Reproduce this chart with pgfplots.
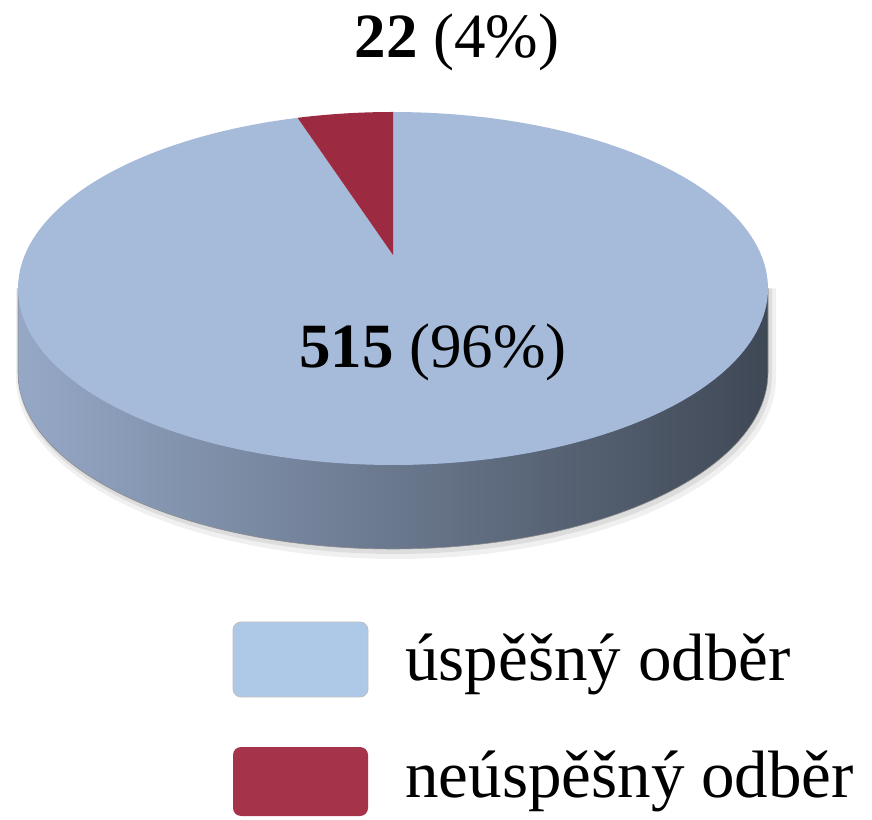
\documentclass[border=0pt]{standalone}
\usepackage{fontspec}
\setmainfont{Liberation Serif}
\usepackage{pgfplots}
\usepackage{pgfplotstable}
\pgfplotsset{compat=1.18}
\definecolor{topblue}{HTML}{A6BADA}
\definecolor{slicered}{HTML}{9C2A40}
\definecolor{legblue}{HTML}{AEC8E8}
\definecolor{legred}{HTML}{A5344B}
\definecolor{sideL}{HTML}{95A8C6}
\definecolor{sideM}{HTML}{617089}
\definecolor{sideR}{HTML}{3F4855}
\pgfplotstableread{
label value
uspesny 515
neuspesny 22
}\piedata
\pgfplotstablegetelem{0}{value}\of\piedata \let\vA\pgfplotsretval
\pgfplotstablegetelem{1}{value}\of\piedata \let\vB\pgfplotsretval
\pgfmathsetmacro{\angB}{90+360*\vB/(\vA+\vB)}
\pgfmathsetmacro{\angEnd}{450}
\def\cx{393}\def\cy{530.5}\def\ra{375}\def\rb{176.5}\def\dep{84}
\def\apy{564}
\begin{document}
\begin{tikzpicture}
\begin{axis}[
  scale only axis, width=436pt, height=409.5pt,
  xmin=0, xmax=872, ymin=0, ymax=819,
  hide axis, clip=false,
]
\path (axis cs:0,0) (axis cs:872,819);
% soft shadow
\addplot[draw=none, fill=black, fill opacity=0.06, domain=180:360, samples=100]
  ({\cx+3+(\ra+5)*cos(x)},{\cy-\dep-5+(\rb+5)*sin(x)}) -- (axis cs:\cx+\ra+8,\cy) -- (axis cs:\cx-\ra-2,\cy) -- cycle;
\addplot[draw=none, fill=black, fill opacity=0.08, domain=180:360, samples=100]
  ({\cx+2+(\ra+2)*cos(x)},{\cy-\dep-3+(\rb+2)*sin(x)}) -- (axis cs:\cx+\ra+4,\cy) -- (axis cs:\cx-\ra,\cy) -- cycle;
% side
\addplot[draw=black!45, line width=0.3pt, left color=sideL, middle color=sideM, right color=sideR, domain=180:360, samples=120]
  ({\cx+\ra*cos(x)},{\cy-\dep+\rb*sin(x)}) -- (axis cs:\cx+\ra,\cy) -- (axis cs:\cx-\ra,\cy) -- cycle;
% top face: blue slice
\addplot[draw=none, fill=topblue, domain=\angB:\angEnd, samples=200]
  ({\cx+\ra*cos(x)},{\cy+\rb*sin(x)}) -- (axis cs:\cx,\apy) -- cycle;
% red slice
\addplot[draw=none, fill=slicered, domain=90:\angB, samples=30]
  ({\cx+\ra*cos(x)},{\cy+\rb*sin(x)}) -- (axis cs:\cx,\apy) -- cycle;
% labels
\node[anchor=base, font=\fontsize{31.5}{36}\selectfont] at (axis cs:457,761) {\textbf{22} (4\%)};
\node[anchor=base, font=\fontsize{31.5}{36}\selectfont] at (axis cs:433,451) {\textbf{515} (96\%)};
% legend
\fill[legblue, draw=black!25, rounded corners=4pt] (axis cs:233,197) rectangle (axis cs:368,122);
\fill[legred, rounded corners=4pt] (axis cs:233,72) rectangle (axis cs:368,3);
\node[anchor=base west, inner sep=0pt, font=\fontsize{33.5}{40}\selectfont] at (axis cs:405,139) {úspěšný odběr};
\node[anchor=base west, inner sep=0pt, font=\fontsize{33.5}{40}\selectfont] at (axis cs:405,22) {neúspěšný odběr};
\end{axis}
\end{tikzpicture}
\end{document}
